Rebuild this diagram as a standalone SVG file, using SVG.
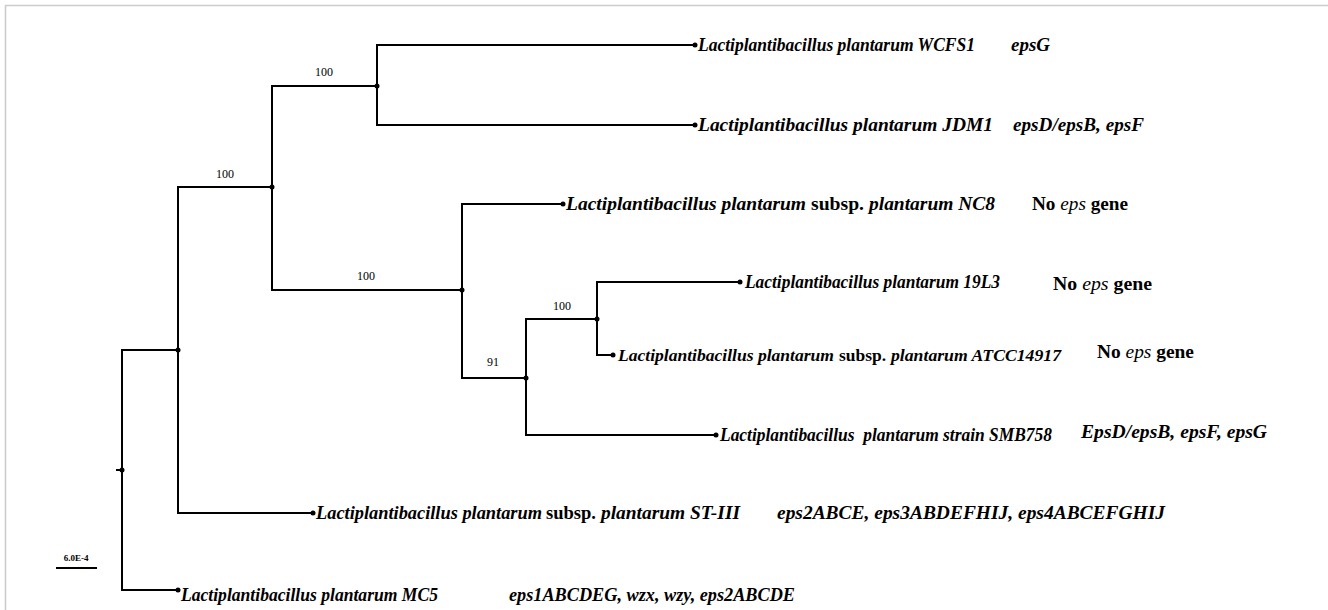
<svg xmlns="http://www.w3.org/2000/svg" width="1328" height="610" viewBox="0 0 1328 610">
<style>
.br{fill:none;stroke:#000;stroke-width:2;stroke-linecap:square}
.dot{fill:#000}
.tip{font-family:"Liberation Serif","Times New Roman",serif;font-size:19px;font-weight:bold;font-style:italic;fill:#000}
.up{font-family:"Liberation Serif","Times New Roman",serif;font-size:19px;font-weight:bold;font-style:normal;fill:#000}
.gene{font-family:"Liberation Serif","Times New Roman",serif;font-size:19px;font-weight:bold;font-style:italic;fill:#000}
.sm{font-size:17.5px}
.n{font-style:normal}
.boot{font-family:"Liberation Serif","Times New Roman",serif;font-size:12px;fill:#000;text-anchor:middle}
.scale{font-family:"Liberation Serif","Times New Roman",serif;font-size:9px;font-weight:bold;fill:#000;text-anchor:middle}
</style>
<rect width="1328" height="610" fill="#fff"/>
<path d="M5.5,610 V5.5 H1328" fill="none" stroke="#cccccc" stroke-width="1.6"/>
<g id="connectors">
<path class="br" d="M117,470 H122 M122,350 V590 M122,350 H178 M122,590 H178"/>
<path class="br" d="M178,187 V513 M178,187 H272 M178,513 H313"/>
<path class="br" d="M272,86 V290 M272,86 H377 M272,290 H462"/>
<path class="br" d="M377,45 V125 M377,45 H695 M377,125 H695"/>
<path class="br" d="M462,204 V378 M462,204 H563 M462,378 H526"/>
<path class="br" d="M526,319 V435 M526,319 H597 M526,435 H716"/>
<path class="br" d="M597,282 V355 M597,282 H740 M597,355 H613"/>
</g>
<g id="internal-nodes">
<circle class="dot" cx="122" cy="470" r="2.5"/>
<circle class="dot" cx="178" cy="350" r="2.5"/>
<circle class="dot" cx="272" cy="187" r="2.5"/>
<circle class="dot" cx="377" cy="86" r="2.5"/>
<circle class="dot" cx="462" cy="290" r="2.5"/>
<circle class="dot" cx="526" cy="378" r="2.5"/>
<circle class="dot" cx="597" cy="319" r="2.5"/>
</g>
<g id="bootstrap">
<text class="boot" x="324" y="76">100</text>
<text class="boot" x="225" y="178">100</text>
<text class="boot" x="366" y="280">100</text>
<text class="boot" x="562" y="310">100</text>
<text class="boot" x="493" y="366">91</text>
</g>
<g id="WCFS1">
<circle class="dot" cx="695" cy="45" r="2.5"/>
<text class="tip" x="698" y="51" textLength="277" lengthAdjust="spacingAndGlyphs">Lactiplantibacillus plantarum WCFS1</text>
<text class="gene" x="1011" y="51" textLength="39" lengthAdjust="spacingAndGlyphs">epsG</text>
</g>
<g id="JDM1">
<circle class="dot" cx="695" cy="125" r="2.5"/>
<text class="tip" x="698" y="131" textLength="295" lengthAdjust="spacingAndGlyphs">Lactiplantibacillus plantarum JDM1</text>
<text class="gene" x="1013" y="131" textLength="131" lengthAdjust="spacingAndGlyphs">epsD/epsB, epsF</text>
</g>
<g id="NC8">
<circle class="dot" cx="563" cy="204" r="2.5"/>
<text class="tip" x="566" y="210" textLength="240" lengthAdjust="spacingAndGlyphs">Lactiplantibacillus plantarum</text>
<text class="up" x="811" y="210" textLength="53" lengthAdjust="spacingAndGlyphs">subsp.</text>
<text class="tip" x="869" y="210" textLength="126" lengthAdjust="spacingAndGlyphs">plantarum NC8</text>
<text class="gene" x="1032" y="210" textLength="96" lengthAdjust="spacingAndGlyphs"><tspan class="n">No </tspan><tspan font-weight="normal">eps</tspan><tspan class="n"> gene</tspan></text>
</g>
<g id="L19L3">
<circle class="dot" cx="740" cy="282" r="2.5"/>
<text class="tip" x="745" y="288" textLength="255" lengthAdjust="spacingAndGlyphs">Lactiplantibacillus plantarum 19L3</text>
<text class="gene" x="1053" y="290" textLength="99" lengthAdjust="spacingAndGlyphs"><tspan class="n">No </tspan><tspan font-weight="normal">eps</tspan><tspan class="n"> gene</tspan></text>
</g>
<g id="ATCC14917">
<circle class="dot" cx="613" cy="355" r="2.5"/>
<text class="tip sm" x="618" y="361" textLength="216" lengthAdjust="spacingAndGlyphs">Lactiplantibacillus plantarum</text>
<text class="up sm" x="839" y="361" textLength="47" lengthAdjust="spacingAndGlyphs">subsp.</text>
<text class="tip sm" x="891" y="361" textLength="170" lengthAdjust="spacingAndGlyphs">plantarum ATCC14917</text>
<text class="gene" x="1097" y="358" textLength="97" lengthAdjust="spacingAndGlyphs"><tspan class="n">No </tspan><tspan font-weight="normal">eps</tspan><tspan class="n"> gene</tspan></text>
</g>
<g id="SMB758">
<circle class="dot" cx="716" cy="435" r="2.5"/>
<text class="tip" x="720" y="441" textLength="332" lengthAdjust="spacingAndGlyphs" xml:space="preserve">Lactiplantibacillus  plantarum strain SMB758</text>
<text class="gene" x="1081" y="438" textLength="186" lengthAdjust="spacingAndGlyphs">EpsD/epsB, epsF, epsG</text>
</g>
<g id="STIII">
<circle class="dot" cx="313" cy="513" r="2.5"/>
<text class="tip" x="316" y="519" textLength="226" lengthAdjust="spacingAndGlyphs">Lactiplantibacillus plantarum</text>
<text class="up" x="546" y="519" textLength="50" lengthAdjust="spacingAndGlyphs">subsp.</text>
<text class="tip" x="601" y="519" textLength="139" lengthAdjust="spacingAndGlyphs">plantarum ST-III</text>
<text class="gene" x="777" y="519" textLength="388" lengthAdjust="spacingAndGlyphs">eps2ABCE, eps3ABDEFHIJ, eps4ABCEFGHIJ</text>
</g>
<g id="MC5">
<circle class="dot" cx="178" cy="590" r="2.5"/>
<text class="tip" x="181" y="601" textLength="257" lengthAdjust="spacingAndGlyphs">Lactiplantibacillus plantarum MC5</text>
<text class="gene" x="509" y="601" textLength="286" lengthAdjust="spacingAndGlyphs">eps1ABCDEG, wzx, wzy, eps2ABCDE</text>
</g>
<g id="scale-bar">
<path class="br" d="M57,568 H96" stroke-linecap="butt"/>
<text class="scale" x="76" y="561">6.0E-4</text>
</g>
</svg>
